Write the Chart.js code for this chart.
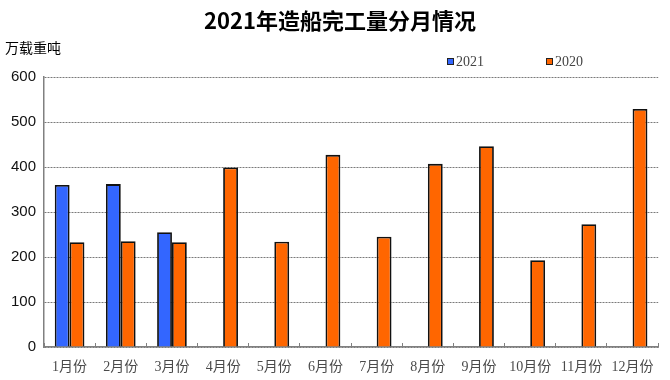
<!DOCTYPE html>
<html><head><meta charset="utf-8">
<script src="https://cdn.jsdelivr.net/npm/chart.js@4.4.1/dist/chart.umd.min.js"></script>
<style>html,body{margin:0;padding:0;background:#fff}#wrap{width:670px;height:380px;position:relative}</style>
</head><body><div id="wrap"><canvas id="c" width="670" height="380"></canvas></div>
<script>
const categories = ['1月份','2月份','3月份','4月份','5月份','6月份','7月份','8月份','9月份','10月份','11月份','12月份'];
const values2021 = [360, 362, 255, null, null, null, null, null, null, null, null, null];
const values2020 = [233, 235, 233, 399, 234, 427, 245, 407, 446, 193, 273, 529];
const yTicks = [0, 100, 200, 300, 400, 500, 600];
const seriesNames = ['2021', '2020'];
const unitLabel = '万载重吨';
const titleText = '2021年造船完工量分月情况';

const extras = {
  id: 'extras',
  afterDraw(chart) {
    const ctx = chart.ctx;
    ctx.save();
    ctx.fillStyle = '#000';
    ctx.textAlign = 'center';
    ctx.textBaseline = 'middle';
    ctx.font = 'bold 22px "Noto Sans CJK SC"';
    ctx.fillText(titleText, 340, 21);
    ctx.font = '14px "Noto Sans CJK SC"';
    ctx.textAlign = 'left';
    ctx.fillText(unitLabel, 5, 48);
    const legendX = [447, 546];
    chart.data.datasets.forEach((ds, i) => {
      const x = legendX[i];
      ctx.fillStyle = ds.backgroundColor;
      ctx.fillRect(x, 58, 7, 7);
      ctx.strokeStyle = '#222';
      ctx.lineWidth = 1;
      ctx.strokeRect(x + 0.5, 58.5, 6, 6);
      ctx.fillStyle = '#444';
      ctx.font = '14px "Liberation Serif"';
      ctx.fillText(ds.label, x + 9, 62);
    });
    ctx.restore();
  }
};

new Chart(document.getElementById('c'), {
  type: 'bar',
  data: {
    labels: categories,
    datasets: [
      { label: seriesNames[0], data: values2021, backgroundColor: '#3366FF', borderColor: '#111', borderWidth: 1.8 },
      { label: seriesNames[1], data: values2020, backgroundColor: '#FF6600', borderColor: '#111', borderWidth: 1.8 }
    ]
  },
  options: {
    responsive: false,
    animation: false,
    devicePixelRatio: 1,
    layout: { padding: { left: 0, right: 10, top: 77, bottom: 0 } },
    datasets: { bar: { categoryPercentage: 0.58, barPercentage: 1 } },
    plugins: {
      legend: { display: false },
      tooltip: { enabled: false },
      title: { display: false }
    },
    scales: {
      x: {
        afterFit(s) { s.height = 33; },
        grid: { display: true, offset: true, drawOnChartArea: false, drawTicks: true, tickLength: -4, color: '#808080', lineWidth: 1 },
        border: { display: true, color: '#808080', width: 1.5 },
        ticks: { color: '#4a4a4a', padding: 16, font: { family: '"Liberation Serif", "Noto Sans CJK SC"', size: 14 }, maxRotation: 0, autoSkip: false }
      },
      y: {
        min: 0, max: 600,
        afterFit(s) { s.width = 44; },
        afterBuildTicks(s) { s.ticks = yTicks.map(v => ({ value: v })); },
        grid: { color: '#7a7a7a', lineWidth: 1, drawTicks: false },
        border: { display: true, color: '#808080', width: 1.5, dash: [2, 1] },
        ticks: { color: '#111', padding: 8, font: { family: '"Liberation Sans"', size: 15 } }
      }
    }
  },
  plugins: [extras]
});
</script></body></html>
